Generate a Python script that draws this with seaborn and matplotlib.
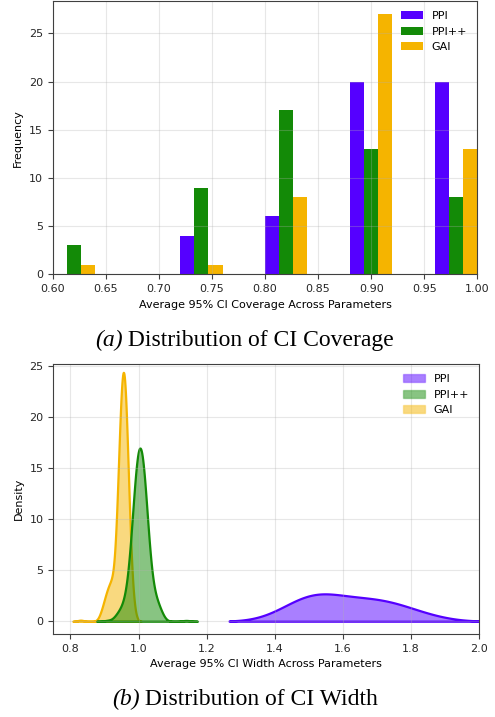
import matplotlib
matplotlib.use('Agg')
import matplotlib.pyplot as plt
import pandas as pd
import seaborn as sns
from matplotlib.patches import Patch
from matplotlib.colors import to_rgba

# --- data ---
methods = ['PPI', 'PPI++', 'GAI']
colors = {'PPI': '#5500FF', 'PPI++': '#138A07', 'GAI': '#F5B400'}

# coverage histogram: bin centres (0.04 wide bins between 0.60 and 1.00)
coverage_bins = [0.62, 0.66, 0.70, 0.74, 0.78, 0.82, 0.86, 0.90, 0.94, 0.98]
ppi_coverage_counts = [0, 0, 0, 4, 0, 6, 0, 20, 0, 20]
ppipp_coverage_counts = [3, 0, 0, 9, 0, 17, 0, 13, 0, 8]
gai_coverage_counts = [1, 0, 0, 1, 0, 8, 0, 27, 0, 13]

# CI widths, binned values with how often they occur
ppi_widths = [1.375, 1.400, 1.425, 1.450, 1.475, 1.500, 1.525, 1.550, 1.575, 1.600, 1.625,
              1.650, 1.675, 1.700, 1.725, 1.750, 1.775, 1.800, 1.825, 1.850, 1.875, 1.900]
ppi_width_counts = [1, 2, 3, 5, 7, 8, 8, 8, 7, 6, 6,
                    6, 6, 6, 6, 5, 4, 4, 2, 2, 1, 1]

ppipp_widths = [0.910, 0.930, 0.935, 0.940, 0.945, 0.950, 0.955, 0.960, 0.965,
                0.970, 0.975, 0.980, 0.985, 0.990, 0.995, 1.000, 1.005, 1.010, 1.015,
                1.020, 1.025, 1.030, 1.035, 1.040, 1.045, 1.050, 1.055, 1.060, 1.065,
                1.070, 1.140]
ppipp_width_counts = [1, 1, 2, 2, 3, 3, 4, 5, 6,
                      10, 14, 20, 28, 36, 41, 45, 46, 44, 40,
                      33, 25, 18, 12, 8, 6, 6, 5, 4, 3,
                      2, 1]

gai_widths = [0.830, 0.890, 0.900, 0.910, 0.920, 0.925, 0.930, 0.935, 0.940, 0.945,
              0.950, 0.955, 0.960, 0.965, 0.970, 0.975, 0.980, 0.985]
gai_width_counts = [1, 4, 10, 16, 18, 4, 10, 18, 32, 46,
                     60, 68, 68, 48, 34, 18, 8, 4]

# kde settings per method (bandwidth factor, cut)
kde_opts = {'PPI': (0.47, 1.43), 'PPI++': (0.43, 1.5), 'GAI': (0.41, 1.45)}

cov_df = pd.concat([
    pd.DataFrame({'coverage': coverage_bins, 'count': c, 'method': m})
    for m, c in zip(methods, [ppi_coverage_counts, ppipp_coverage_counts, gai_coverage_counts])
])
width_df = pd.concat([
    pd.DataFrame({'width': w, 'count': c, 'method': m})
    for m, w, c in zip(methods,
                       [ppi_widths, ppipp_widths, gai_widths],
                       [ppi_width_counts, ppipp_width_counts, gai_width_counts])
])

plt.rcParams['font.size'] = 8

fig = plt.figure(figsize=(4.95, 7.17), dpi=100)
ax1 = fig.add_axes([0.1065, 0.6174, 0.8577, 0.3812])
ax2 = fig.add_axes([0.1077, 0.1158, 0.8606, 0.3766])

# --- (a) coverage histogram ---
sns.histplot(data=cov_df, x='coverage', weights='count', hue='method', hue_order=methods,
             multiple='dodge', bins=10, binrange=(0.6, 1.0), shrink=1,
             palette=colors, alpha=1, linewidth=0, legend=False, ax=ax1)
ax1.set_xlim(0.6, 1.0)
ax1.set_xlabel('Average 95% CI Coverage Across Parameters')
ax1.set_ylabel('Frequency')
ax1.grid(True, alpha=0.3)
ax1.legend(handles=[Patch(facecolor=colors[m], label=m) for m in methods],
           loc='upper right', frameon=False)

# --- (b) width densities ---
for m in methods[::-1]:
    bw, cut = kde_opts[m]
    sns.kdeplot(data=width_df[width_df['method'] == m], x='width', weights='count',
                bw_method=bw, cut=cut, fill=True, alpha=0.5, linewidth=1.6,
                color=colors[m], ax=ax2)
ax2.set_xlim(0.75, 2.0)
ax2.set_ylim(-1.25, 25.2)
ax2.set_xlabel('Average 95% CI Width Across Parameters')
ax2.set_ylabel('Density')
ax2.grid(True, alpha=0.3)
ax2.legend(handles=[Patch(facecolor=to_rgba(colors[m], 0.5), edgecolor=to_rgba(colors[m], 0.3),
                          label=m) for m in methods],
           loc='upper right', frameon=False)

for ax in (ax1, ax2):
    for s in ax.spines.values():
        s.set_color('0.25')
    ax.tick_params(colors='0.25', labelcolor='0.15')


def caption(tag, text, xc, y):
    # italic "(a)" followed by upright caption, centred as one line
    t1 = fig.text(0, y, tag, family='Liberation Serif', style='italic',
                  fontsize=17, va='center')
    t2 = fig.text(0, y, ' ' + text, family='Liberation Serif',
                  fontsize=17, va='center')
    r = fig.canvas.get_renderer()
    w1 = t1.get_window_extent(r).width / fig.bbox.width
    w2 = t2.get_window_extent(r).width / fig.bbox.width
    x0 = xc - (w1 + w2) / 2
    t1.set_x(x0)
    t2.set_x(x0 + w1)


caption('(a)', 'Distribution of CI Coverage', 0.494, 0.525)
caption('(b)', 'Distribution of CI Width', 0.495, 0.025)

fig.savefig('out.png', dpi=100)
